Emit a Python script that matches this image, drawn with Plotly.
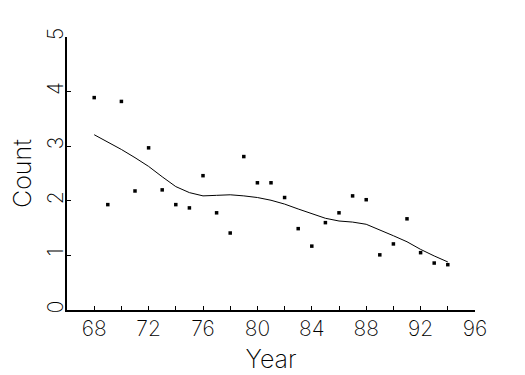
import plotly.graph_objects as go

years = list(range(68, 95))
counts = [3.89, 1.93, 3.82, 2.18, 2.97, 2.20, 1.93, 1.87, 2.46, 1.78, 1.41, 2.81,
          2.33, 2.33, 2.06, 1.49, 1.17, 1.60, 1.78, 2.09, 2.02, 1.01, 1.21, 1.67,
          1.05, 0.86, 0.83]
smooth = [3.21, 3.08, 2.94, 2.79, 2.63, 2.44, 2.26, 2.15, 2.09, 2.10, 2.11, 2.09,
          2.06, 2.01, 1.94, 1.85, 1.76, 1.68, 1.63, 1.61, 1.57, 1.47, 1.36, 1.25,
          1.11, 0.99, 0.88]
x_ticks = [68, 72, 76, 80, 84, 88, 92, 96]
y_ticks = [0, 1, 2, 3, 4, 5]

FONT = "Inter, DejaVu Sans, sans-serif"

fig = go.Figure()
fig.add_trace(go.Scatter(x=years, y=counts, mode="markers",
                         marker=dict(symbol="square", size=3.5, color="black",
                                     line=dict(width=0))))
fig.add_trace(go.Scatter(x=years, y=smooth, mode="lines",
                         line=dict(color="black", width=1)))

fig.update_layout(
    width=525, height=375,
    margin=dict(l=67, r=50, t=37, b=65),
    paper_bgcolor="white", plot_bgcolor="white",
    showlegend=False,
    font=dict(family=FONT, color="black", size=21, weight=200),
    xaxis=dict(range=[66, 96], tickmode="array", tickvals=x_ticks,
               ticktext=[str(v) for v in x_ticks],
               ticks="inside", ticklen=4, tickwidth=1, tickcolor="black",
               minor=dict(dtick=2, tick0=68, ticks="inside", ticklen=4,
                          tickwidth=1, tickcolor="black"),
               showline=True, linecolor="black", linewidth=2,
               showgrid=False, zeroline=False, automargin=False,
               ticklabelstandoff=-1,
               tickfont=dict(size=21, weight=200),
               title=dict(text="Year", font=dict(size=25, weight=200), standoff=10)),
    yaxis=dict(range=[0, 5], tickmode="array", tickvals=y_ticks,
               ticktext=[str(v) for v in y_ticks],
               ticks="inside", ticklen=4, tickwidth=1, tickcolor="black",
               showline=True, linecolor="black", linewidth=2,
               showgrid=False, zeroline=False, tickangle=-90, automargin=False,
               ticklabelstandoff=-6,
               tickfont=dict(size=21, weight=200),
               title=dict(text="Count", font=dict(size=25, weight=200), standoff=4)),
)

fig.write_html("out.html")
